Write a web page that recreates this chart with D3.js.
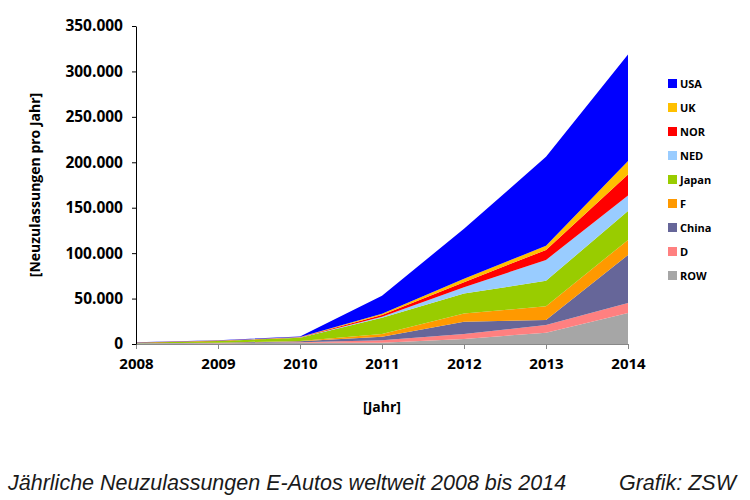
<!DOCTYPE html>
<html>
<head>
<meta charset="utf-8">
<script src="https://cdn.jsdelivr.net/npm/d3@7"></script>
<style>
  body { margin: 0; background: #fff; }
  svg text { font-family: "Open Sans", sans-serif; }
</style>
</head>
<body>
<svg id="chart" width="750" height="500"></svg>
<script>
// years on the x axis
var years = [2008, 2009, 2010, 2011, 2012, 2013, 2014];

// stack order, bottom to top
var countries = ["ROW", "D", "China", "F", "Japan", "NED", "NOR", "UK", "USA"];

// registrations per year
var ROW   = [500, 800, 1500, 1500, 5500, 12500, 34000];
var D     = [100, 200, 500, 2500, 5500, 8500, 11000];
var China = [100, 300, 1000, 4000, 13500, 5500, 53000];
var F     = [100, 200, 400, 3000, 9000, 15000, 16500];
var Japan = [600, 1800, 3500, 18000, 22000, 28000, 32000];
var NED   = [50, 100, 150, 1000, 7000, 23000, 17000];
var NOR   = [200, 300, 400, 2000, 5600, 11000, 23000];
var UK    = [100, 100, 200, 1200, 3700, 4500, 15000];
var USA   = [300, 400, 500, 20000, 55000, 98000, 117000];

var yTicks = [0, 50000, 100000, 150000, 200000, 250000, 300000, 350000];

var colors = {
    ROW: "#a6a6a6", D: "#ff8080", China: "#666699", F: "#ff9900",
    Japan: "#99cc00", NED: "#99ccff", NOR: "#ff0000", UK: "#ffc000", USA: "#0000ff"
};

var series = { ROW: ROW, D: D, China: China, F: F, Japan: Japan, NED: NED, NOR: NOR, UK: UK, USA: USA };

var rows = years.map(function(y, i) {
    var r = { year: y };
    countries.forEach(function(c) { r[c] = series[c][i]; });
    return r;
});

var svg = d3.select("#chart");

var x = d3.scaleLinear().domain([2008, 2014]).range([136, 628]);
var y = d3.scaleLinear().domain([0, 350000]).range([344, 26]);

var stack = d3.stack().keys(countries);
var layers = stack(rows);

var area = d3.area()
    .x(function(d) { return x(d.data.year); })
    .y0(function(d) { return y(d[0]); })
    .y1(function(d) { return y(d[1]); });

svg.append("g")
  .selectAll("path")
  .data(layers)
  .enter().append("path")
    .attr("fill", function(d) { return colors[d.key]; })
    .attr("d", area);

// x axis
var xAxis = svg.append("g")
    .attr("transform", "translate(0,344)")
    .call(d3.axisBottom(x).tickValues(years).tickFormat(d3.format("d")).tickSize(5).tickSizeOuter(0));
xAxis.select(".domain").attr("stroke", "#888");
xAxis.selectAll(".tick line").attr("stroke", "#888");
xAxis.selectAll("text")
    .attr("font-size", "15px")
    .attr("font-weight", "bold")
    .attr("fill", "#000")
    .attr("dy", "1.15em");

// y axis
var fmt = function(v) { return v === 0 ? "0" : d3.format(",")(v).replace(/,/g, "."); };
var yAxis = svg.append("g")
    .attr("transform", "translate(136,0)")
    .call(d3.axisLeft(y).tickValues(yTicks).tickFormat(fmt).tickSize(4).tickSizeOuter(0));
yAxis.select(".domain").attr("stroke", "#000");
yAxis.selectAll(".tick line").attr("stroke", "#000");
yAxis.selectAll("text")
    .attr("font-size", "15.5px")
    .attr("font-weight", "bold")
    .attr("fill", "#000")
    .attr("x", -13);

// axis titles
svg.append("text")
    .attr("x", 382).attr("y", 412)
    .attr("text-anchor", "middle")
    .attr("font-size", "14px").attr("font-weight", "bold")
    .text("[Jahr]");

svg.append("text")
    .attr("transform", "translate(40,185) rotate(-90)")
    .attr("text-anchor", "middle")
    .attr("font-size", "14px").attr("font-weight", "bold")
    .text("[Neuzulassungen pro Jahr]");

// legend, top to bottom
var legend = svg.append("g").attr("transform", "translate(668,84)");
var legendItems = countries.slice().reverse();
var item = legend.selectAll("g")
    .data(legendItems)
  .enter().append("g")
    .attr("transform", function(d, i) { return "translate(0," + (i * 24) + ")"; });
item.append("rect")
    .attr("x", 0).attr("y", -5)
    .attr("width", 9).attr("height", 9)
    .attr("fill", function(d) { return colors[d]; });
item.append("text")
    .attr("x", 12).attr("y", 4)
    .attr("font-size", "11px").attr("font-weight", "bold")
    .text(function(d) { return d; });

// caption
svg.append("text")
    .attr("x", 8).attr("y", 490)
    .attr("font-style", "italic")
    .attr("font-size", "21.5px")
    .attr("fill", "#1a1a1a")
    .style("font-family", "'Liberation Sans', Arial, sans-serif")
    .text("Jährliche Neuzulassungen E-Autos weltweit 2008 bis 2014");

svg.append("text")
    .attr("x", 736).attr("y", 490)
    .attr("text-anchor", "end")
    .attr("font-style", "italic")
    .attr("font-size", "21.5px")
    .attr("fill", "#1a1a1a")
    .style("font-family", "'Liberation Sans', Arial, sans-serif")
    .text("Grafik: ZSW");
</script>
</body>
</html>
